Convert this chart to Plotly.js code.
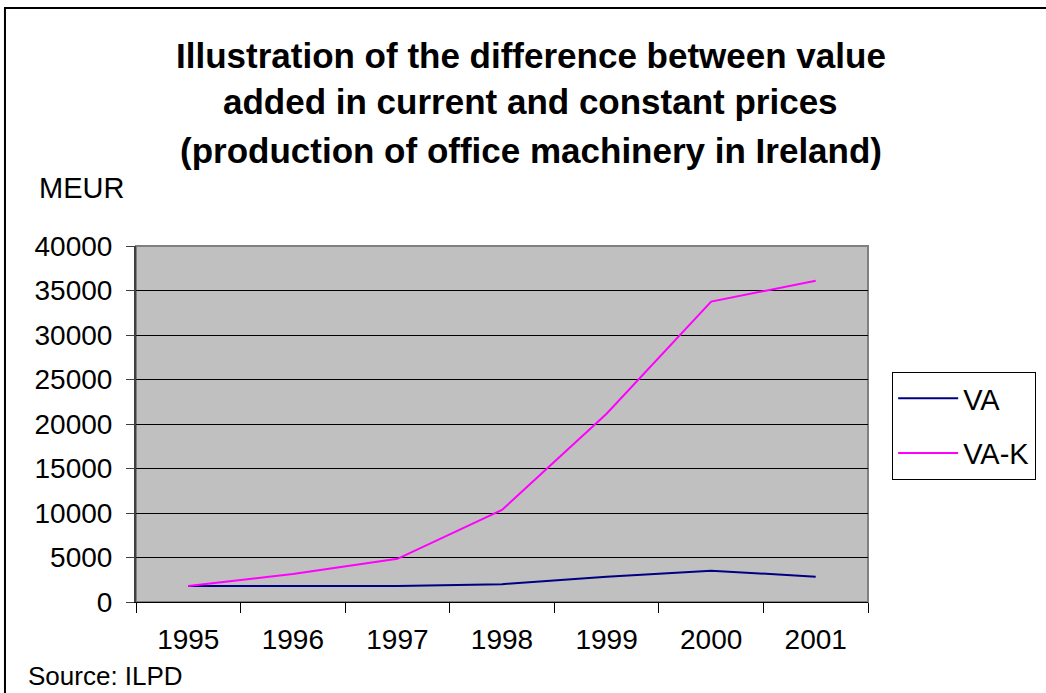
<!DOCTYPE html>
<html>
<head>
<meta charset="utf-8">
<script src="https://cdn.plot.ly/plotly-3.0.1.min.js"></script>
<style>html,body{margin:0;padding:0;background:#fff;}#chart{width:1046px;height:693px;}</style>
</head>
<body>
<div id="chart"></div>
<script>
const years = ['1995', '1996', '1997', '1998', '1999', '2000', '2001'];
const vaValues = [1800, 1800, 1800, 2000, 2850, 3520, 2840];
const vakValues = [1800, 3150, 4850, 10350, 21150, 33750, 36100];
const yTicks = [0, 5000, 10000, 15000, 20000, 25000, 30000, 35000, 40000];
const titleLines = [
  'Illustration of the difference between value',
  'added in current and constant prices',
  '(production of office machinery in Ireland)'
];

const FONT = 'Liberation Sans, Arial, sans-serif';

const traces = [
  {x: years, y: vaValues, name: 'VA', type: 'scatter', mode: 'lines',
   line: {color: '#000080', width: 2}, legendgroup: 'a'},
  {x: years, y: vakValues, name: 'VA-K', type: 'scatter', mode: 'lines',
   line: {color: '#FF00FF', width: 2}, legendgroup: 'b'}
];

const titleY = [1.5365, 1.4073, 1.2669];
const annotations = titleLines.map((t, i) => ({
  text: '<b>' + t + '</b>', xref: 'paper', yref: 'paper', x: 0.5396, y: titleY[i],
  xanchor: 'center', yanchor: 'middle', showarrow: false,
  font: {family: FONT, size: 35, color: '#000'}
}));
annotations.push({text: 'MEUR', xref: 'paper', yref: 'paper', x: -0.1352, y: 1.163,
  xanchor: 'left', yanchor: 'middle', showarrow: false, font: {family: FONT, size: 29, color: '#000'}});
annotations.push({text: 'Source: ILPD', xref: 'paper', yref: 'paper', x: -0.15, y: -0.2556,
  xanchor: 'left', yanchor: 'bottom', showarrow: false, font: {family: FONT, size: 26, color: '#000'}});

const layout = {
  width: 1046, height: 693,
  margin: {l: 136, r: 178, t: 246, b: 91, autoexpand: false},
  paper_bgcolor: '#fff', plot_bgcolor: '#c0c0c0',
  font: {family: FONT, size: 28, color: '#000'},
  showlegend: true,
  legend: {x: 1.033, y: 0.646, xanchor: 'left', yanchor: 'top',
    bordercolor: '#000', borderwidth: 1, bgcolor: '#fff',
    font: {family: FONT, size: 29, color: '#000'},
    itemwidth: 60, tracegroupgap: 14, traceorder: 'grouped'},
  xaxis: {type: 'category', categoryorder: 'array', categoryarray: years,
    range: [-0.5, 6.5],
    showgrid: false, zeroline: false, showline: true, linecolor: '#000', linewidth: 1,
    ticks: 'outside', tickson: 'boundaries', ticklen: 10, tickcolor: '#000', tickwidth: 1,
    ticklabelstandoff: 12, tickfont: {family: FONT, size: 28}, fixedrange: true},
  yaxis: {range: [0, 40000], tickvals: yTicks, ticktext: yTicks.map(String),
    showgrid: true, gridcolor: '#000', gridwidth: 1, zeroline: false,
    showline: true, linecolor: '#404040', linewidth: 2,
    ticks: 'outside', ticklen: 8, tickcolor: '#404040', tickwidth: 1,
    ticklabelstandoff: 8, tickfont: {family: FONT, size: 28}, fixedrange: true},
  shapes: [
    {type: 'rect', xref: 'paper', yref: 'paper', x0: 0, x1: 1, y0: 0, y1: 1,
     line: {color: '#808080', width: 2}, layer: 'below'},
    {type: 'rect', xref: 'paper', yref: 'paper', x0: -0.179, x1: 1.27, y0: -0.35, y1: 1.6685,
     line: {color: '#000', width: 2}, fillcolor: 'rgba(0,0,0,0)', layer: 'above'}
  ],
  annotations: annotations
};

Plotly.newPlot('chart', traces, layout, {displayModeBar: false, staticPlot: true});
</script>
</body>
</html>
